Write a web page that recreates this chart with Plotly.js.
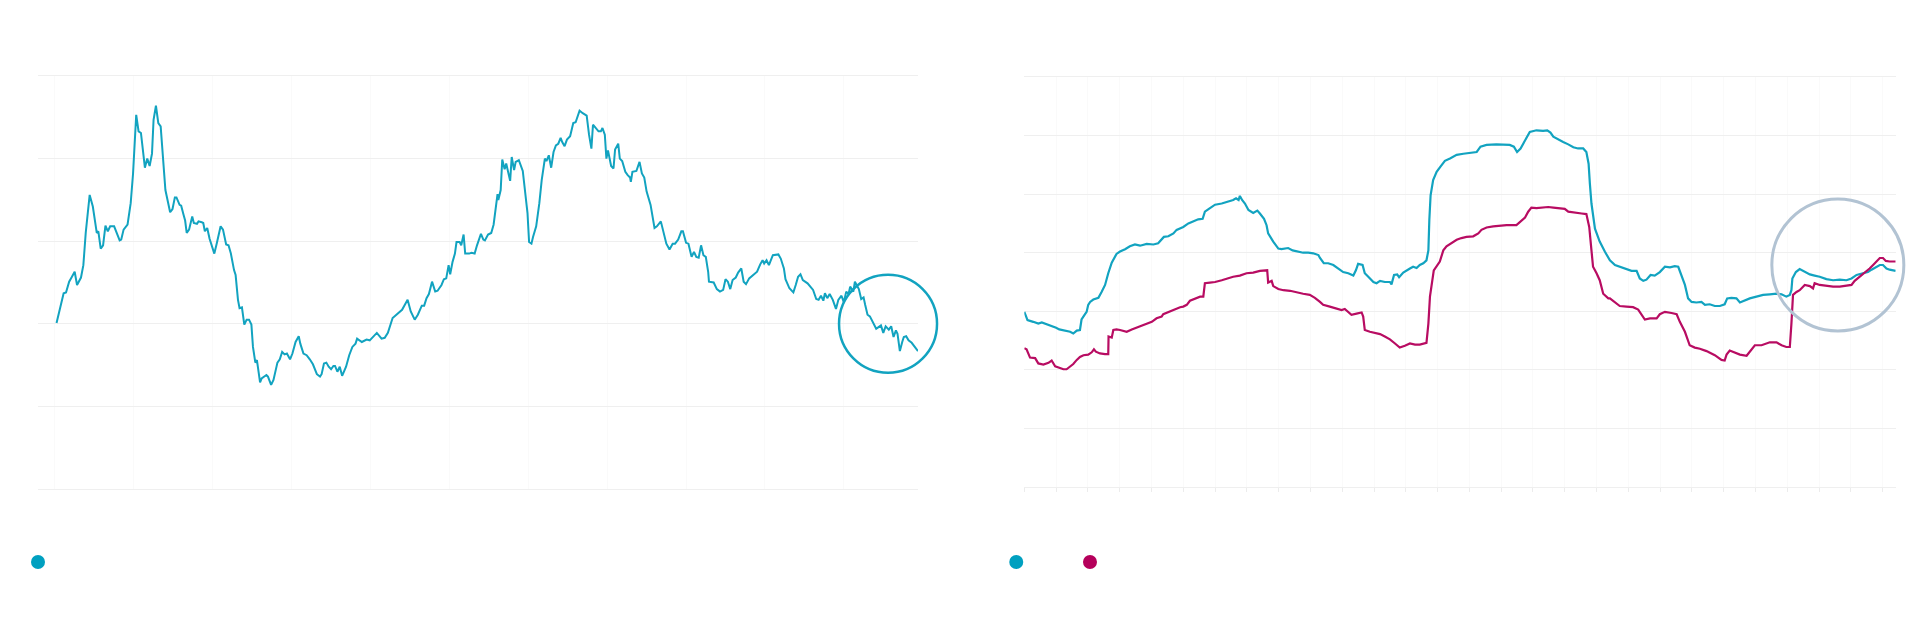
<!DOCTYPE html>
<html>
<head>
<meta charset="utf-8">
<script src="https://cdn.plot.ly/plotly-3.0.1.min.js"></script>
<style>
	body { margin: 0; background: #fff; }
	#chart { width: 1920px; height: 625px; }
</style>
</head>
<body>
<div id="chart"></div>
<script>
// left panel, one series
const leftX = [
	0.02, 0.11, 0.14, 0.18, 0.21, 0.25, 0.28, 0.33, 0.36, 0.39, 0.44, 0.48, 0.53, 0.55, 0.58, 0.61, 0.64, 0.67, 0.70, 0.75,
	0.82, 0.84, 0.87, 0.92, 0.96, 0.99, 1.03, 1.06, 1.09, 1.12, 1.14, 1.17, 1.20, 1.23, 1.25, 1.28, 1.31, 1.34, 1.40, 1.46,
	1.49, 1.52, 1.54, 1.58, 1.60, 1.63, 1.65, 1.67, 1.70, 1.74, 1.76, 1.80, 1.82, 1.86, 1.88, 1.90, 1.93, 1.96, 2.02, 2.05,
	2.10, 2.13, 2.17, 2.20, 2.23, 2.27, 2.29, 2.32, 2.34, 2.37, 2.40, 2.43, 2.46, 2.49, 2.51, 2.54, 2.56, 2.60, 2.62, 2.68,
	2.70, 2.74, 2.77, 2.82, 2.85, 2.88, 2.91, 2.94, 2.98, 3.01, 3.05, 3.09, 3.11, 3.15, 3.19, 3.23, 3.27, 3.32, 3.36, 3.38,
	3.41, 3.44, 3.47, 3.50, 3.53, 3.55, 3.58, 3.61,
	3.64, 3.69, 3.73, 3.77, 3.81, 3.83, 3.89, 3.95, 3.99, 4.08, 4.14, 4.18, 4.22, 4.28, 4.32, 4.35, 4.40, 4.47, 4.51, 4.56,
	4.60, 4.65, 4.68, 4.71, 4.74, 4.78, 4.82, 4.85, 4.90, 4.93, 4.96, 4.99, 5.01, 5.04, 5.07, 5.09, 5.13, 5.15, 5.18, 5.20,
	5.25, 5.28, 5.32, 5.35, 5.40, 5.43, 5.45, 5.49, 5.53, 5.56, 5.59, 5.61, 5.62, 5.65, 5.67, 5.70, 5.72, 5.74, 5.77, 5.79,
	5.82, 5.84, 5.88, 5.93, 5.96, 5.99, 6.01, 6.04, 6.06, 6.10, 6.14, 6.17, 6.21, 6.23, 6.26, 6.29, 6.32, 6.35, 6.38, 6.41,
	6.43, 6.46, 6.49, 6.53, 6.54, 6.57, 6.60, 6.65, 6.69, 6.74, 6.77, 6.80, 6.82, 6.86, 6.89, 6.92, 6.94, 6.97, 6.99, 7.01,
	7.03, 7.05, 7.08, 7.10, 7.14, 7.16, 7.19, 7.23, 7.26, 7.29,
	7.30, 7.32, 7.37, 7.41, 7.44, 7.47, 7.50, 7.55, 7.60, 7.63, 7.68, 7.71, 7.75, 7.79, 7.83, 7.86, 7.90, 7.94, 7.96, 8.00,
	8.03, 8.07, 8.10, 8.13, 8.16, 8.19, 8.22, 8.25, 8.28, 8.29, 8.35, 8.39, 8.43, 8.47, 8.50, 8.53, 8.56, 8.59, 8.63, 8.66,
	8.70, 8.73, 8.76, 8.80, 8.85, 8.90, 8.94, 8.97, 8.99, 9.02, 9.05, 9.07, 9.10, 9.17, 9.20, 9.24, 9.26, 9.31, 9.36, 9.39,
	9.42, 9.45, 9.48, 9.54, 9.58, 9.61, 9.65, 9.68, 9.71, 9.74, 9.76, 9.79, 9.82, 9.86, 9.90, 9.93, 9.97, 10.00, 10.03, 10.06,
	10.08, 10.12, 10.14, 10.19, 10.22, 10.25, 10.27, 10.30, 10.33, 10.37, 10.41, 10.44, 10.47, 10.50, 10.53, 10.57, 10.60, 10.63, 10.66, 10.68,
	10.71, 10.74, 10.76, 10.79, 10.82, 10.86, 10.90, 10.93, 10.94,
];
const leftY = [
	2.01, 2.37, 2.38, 2.51, 2.56, 2.63, 2.47, 2.56, 2.71, 3.10, 3.56, 3.42, 3.10, 3.12, 2.91, 2.95, 3.19, 3.12, 3.18, 3.18,
	3.01, 3.02, 3.14, 3.20, 3.46, 3.82, 4.53, 4.33, 4.31, 4.06, 3.89, 4.00, 3.91, 4.06, 4.47, 4.64, 4.43, 4.39, 3.62, 3.35,
	3.39, 3.53, 3.53, 3.44, 3.43, 3.32, 3.25, 3.10, 3.14, 3.30, 3.22, 3.21, 3.24, 3.23, 3.22, 3.12, 3.16, 3.03, 2.85, 2.97,
	3.18, 3.14, 2.96, 2.95, 2.85, 2.65, 2.59, 2.29, 2.19, 2.20, 1.99, 2.05, 2.05, 1.99, 1.72, 1.53, 1.56, 1.29, 1.34, 1.38,
	1.36, 1.26, 1.32, 1.53, 1.57, 1.66, 1.63, 1.64, 1.57, 1.64, 1.78, 1.85, 1.76, 1.64, 1.62, 1.57, 1.51, 1.39, 1.36, 1.39,
	1.52, 1.53, 1.48, 1.45, 1.49, 1.49, 1.42, 1.48,
	1.37, 1.48, 1.62, 1.72, 1.76, 1.82, 1.78, 1.81, 1.80, 1.89, 1.82, 1.83, 1.89, 2.07, 2.10, 2.13, 2.17, 2.29, 2.15, 2.05,
	2.11, 2.22, 2.22, 2.31, 2.36, 2.51, 2.39, 2.40, 2.47, 2.54, 2.55, 2.71, 2.60, 2.75, 2.85, 2.99, 2.99, 2.95, 3.08, 2.85,
	2.85, 2.86, 2.85, 2.95, 3.09, 3.02, 3.01, 3.08, 3.10, 3.20, 3.44, 3.57, 3.50, 3.62, 3.99, 3.87, 3.94, 3.84, 3.73, 4.02,
	3.86, 3.96, 3.98, 3.85, 3.62, 3.34, 2.99, 2.97, 3.05, 3.18, 3.46, 3.74, 4.00, 3.97, 4.04, 3.89, 4.08, 4.16, 4.18, 4.25,
	4.20, 4.15, 4.23, 4.27, 4.31, 4.43, 4.44, 4.58, 4.55, 4.52, 4.29, 4.12, 4.41, 4.37, 4.33, 4.33, 4.37, 4.29, 4.00, 4.10,
	4.00, 3.91, 3.88, 4.11, 4.18, 4.00, 3.97, 3.84, 3.80, 3.77,
	3.72, 3.84, 3.85, 3.96, 3.82, 3.77, 3.60, 3.44, 3.16, 3.18, 3.24, 3.12, 2.97, 2.90, 2.97, 2.97, 3.02, 3.12, 3.12, 2.98,
	2.97, 2.81, 2.87, 2.81, 2.80, 2.95, 2.83, 2.81, 2.63, 2.51, 2.50, 2.42, 2.39, 2.41, 2.54, 2.51, 2.42, 2.53, 2.56, 2.62,
	2.67, 2.51, 2.48, 2.55, 2.59, 2.63, 2.72, 2.77, 2.73, 2.77, 2.71, 2.75, 2.83, 2.84, 2.79, 2.67, 2.54, 2.43, 2.38, 2.47,
	2.57, 2.60, 2.53, 2.49, 2.44, 2.41, 2.30, 2.29, 2.34, 2.28, 2.37, 2.31, 2.36, 2.29, 2.18, 2.29, 2.34, 2.26, 2.39, 2.36,
	2.45, 2.39, 2.51, 2.42, 2.30, 2.32, 2.23, 2.11, 2.09, 2.01, 1.94, 1.96, 1.98, 1.89, 1.97, 1.93, 1.97, 1.84, 1.92, 1.88,
	1.67, 1.78, 1.84, 1.85, 1.80, 1.77, 1.72, 1.69, 1.67,
];

// right panel, two series
const rightCyanX = [
	0, 0.10, 0.28, 0.44, 0.55, 0.70, 0.86, 1.00, 1.10, 1.28, 1.44, 1.54, 1.65, 1.75, 1.80, 1.91, 1.96, 2.01, 2.07, 2.17,
	2.33, 2.43, 2.54, 2.64, 2.75, 2.90, 3.01, 3.17, 3.32, 3.48, 3.64, 3.85, 4.06, 4.21, 4.32, 4.39, 4.53, 4.69, 4.79, 5.00,
	5.16, 5.32, 5.47, 5.61, 5.68, 5.84, 6.00, 6.21, 6.36, 6.57, 6.66, 6.74, 6.78, 6.85, 6.94, 7.05, 7.20, 7.33, 7.41, 7.54,
	7.62, 7.67, 7.83, 7.99, 8.09, 8.20, 8.30, 8.44, 8.62, 8.77, 8.93, 9.09, 9.25,
	9.30, 9.42, 9.56, 9.72, 9.88, 10.03, 10.19, 10.35, 10.43, 10.50, 10.64, 10.71, 10.82, 10.98, 11.08, 11.19, 11.34, 11.50, 11.55, 11.63,
	11.73, 11.79, 11.92, 12.02, 12.13, 12.23, 12.34, 12.44, 12.55, 12.65, 12.71, 12.74, 12.78, 12.86, 12.97, 13.09, 13.23, 13.39, 13.60, 13.81,
	14.02, 14.23, 14.35, 14.54, 14.85, 15.06, 15.27, 15.40, 15.50, 15.61, 15.69, 15.80, 15.90, 16.11, 16.32, 16.45, 16.55, 16.64, 16.79, 16.95,
	17.11, 17.27, 17.42, 17.58, 17.68, 17.75, 17.79, 17.84, 17.95, 18.10, 18.26, 18.42,
	18.58, 18.73, 18.94, 19.10, 19.26, 19.36, 19.47, 19.57, 19.70, 19.83, 19.99, 20.15, 20.31, 20.46, 20.57, 20.67, 20.78, 20.88, 20.99, 21.14,
	21.30, 21.41, 21.56, 21.72, 21.88, 22.03, 22.11, 22.24, 22.40, 22.51, 22.66, 22.82, 23.03, 23.24, 23.45, 23.66, 23.82, 23.97, 24.08, 24.13,
	24.16, 24.27, 24.39, 24.55, 24.71, 24.86, 25.02, 25.23, 25.44, 25.65, 25.86, 26.02, 26.18, 26.38, 26.54, 26.65, 26.80, 26.91, 27.01, 27.12,
	27.22, 27.41,
];
const rightCyanY = [
	2.99, 2.85, 2.82, 2.79, 2.81, 2.78, 2.76, 2.72, 2.69, 2.67, 2.65, 2.62, 2.67, 2.68, 2.86, 2.95, 2.99, 3.11, 3.16, 3.20,
	3.23, 3.33, 3.45, 3.65, 3.83, 3.98, 4.02, 4.06, 4.11, 4.14, 4.12, 4.15, 4.14, 4.16, 4.22, 4.27, 4.28, 4.33, 4.39, 4.44,
	4.50, 4.54, 4.57, 4.58, 4.70, 4.76, 4.82, 4.84, 4.86, 4.90, 4.93, 4.90, 4.97, 4.90, 4.84, 4.73, 4.68, 4.72, 4.67, 4.58,
	4.47, 4.33, 4.19, 4.07, 4.06, 4.07, 4.08, 4.04, 4.02, 4.00, 4.00, 3.99, 3.96,
	3.91, 3.82, 3.82, 3.79, 3.73, 3.67, 3.65, 3.61, 3.70, 3.81, 3.79, 3.65, 3.59, 3.50, 3.48, 3.52, 3.50, 3.50, 3.46, 3.62,
	3.63, 3.58, 3.66, 3.70, 3.73, 3.76, 3.74, 3.79, 3.82, 3.87, 4.04, 4.56, 4.98, 5.24, 5.38, 5.47, 5.57, 5.61, 5.67, 5.69,
	5.71, 5.72, 5.81, 5.84, 5.85, 5.85, 5.84, 5.81, 5.72, 5.78, 5.86, 5.97, 6.06, 6.09, 6.08, 6.09, 6.05, 5.98, 5.93, 5.89,
	5.85, 5.80, 5.78, 5.78, 5.72, 5.52, 5.18, 4.84, 4.41, 4.19, 4.02, 3.87,
	3.79, 3.76, 3.72, 3.69, 3.69, 3.56, 3.52, 3.54, 3.62, 3.61, 3.67, 3.76, 3.75, 3.77, 3.76, 3.62, 3.45, 3.22, 3.16, 3.15,
	3.16, 3.11, 3.12, 3.09, 3.09, 3.12, 3.22, 3.23, 3.22, 3.15, 3.19, 3.22, 3.25, 3.28, 3.29, 3.30, 3.29, 3.25, 3.28, 3.36,
	3.56, 3.67, 3.72, 3.67, 3.63, 3.61, 3.59, 3.55, 3.53, 3.54, 3.53, 3.56, 3.62, 3.65, 3.67, 3.71, 3.76, 3.79, 3.79, 3.73,
	3.71, 3.69,
];

const rightRedX = [
	0, 0.07, 0.18, 0.34, 0.44, 0.60, 0.76, 0.86, 0.97, 1.07, 1.23, 1.33, 1.44, 1.54, 1.65, 1.75, 1.86, 2.01, 2.12, 2.19,
	2.25, 2.38, 2.54, 2.64, 2.65, 2.75, 2.80, 2.90, 3.01, 3.22, 3.38, 3.53, 3.69, 3.85, 4.01, 4.16, 4.32, 4.37, 4.53, 4.69,
	4.90, 5.00, 5.11, 5.21, 5.37, 5.53, 5.63, 5.68, 5.84, 6.00, 6.21, 6.36, 6.57, 6.78, 6.99, 7.20, 7.41, 7.64, 7.67, 7.78,
	7.83, 7.99, 8.15, 8.36, 8.56, 8.77, 8.98, 9.14, 9.30,
	9.40, 9.61, 9.82, 9.98, 10.08, 10.19, 10.29, 10.45, 10.61, 10.66, 10.71, 10.87, 11.03, 11.19, 11.34, 11.50, 11.66, 11.81, 11.97, 12.13,
	12.29, 12.44, 12.65, 12.71, 12.76, 12.88, 13.07, 13.18, 13.28, 13.44, 13.60, 13.75, 13.91, 14.12, 14.28, 14.38, 14.54, 14.75, 14.96, 15.17,
	15.48, 15.59, 15.75, 15.85, 15.95, 16.11, 16.32, 16.48, 16.64, 16.85, 17.00, 17.11, 17.32, 17.53, 17.68, 17.77, 17.84, 17.89, 18.00, 18.10,
	18.21, 18.37,
	18.42, 18.58, 18.73, 18.94, 19.15, 19.31, 19.41, 19.52, 19.68, 19.89, 19.99, 20.15, 20.36, 20.52, 20.62, 20.78, 20.93, 21.09, 21.25, 21.46,
	21.72, 21.93, 22.03, 22.09, 22.19, 22.35, 22.51, 22.72, 22.87, 22.98, 23.19, 23.34, 23.45, 23.66, 23.82, 23.97, 24.08, 24.13, 24.18, 24.29,
	24.39, 24.55, 24.71, 24.81, 24.86, 25.02, 25.23, 25.44, 25.65, 25.86, 26.02, 26.12, 26.28, 26.44, 26.59, 26.70, 26.80, 26.91, 27.01, 27.10,
	27.22, 27.41,
];
const rightRedY = [
	2.37, 2.35, 2.21, 2.20, 2.11, 2.09, 2.12, 2.16, 2.06, 2.04, 2.01, 2.01, 2.05, 2.10, 2.17, 2.22, 2.25, 2.26, 2.30, 2.35,
	2.31, 2.28, 2.27, 2.27, 2.57, 2.55, 2.68, 2.69, 2.68, 2.65, 2.69, 2.72, 2.75, 2.79, 2.82, 2.88, 2.91, 2.95, 2.99, 3.02,
	3.07, 3.08, 3.11, 3.18, 3.22, 3.25, 3.25, 3.48, 3.49, 3.50, 3.53, 3.56, 3.59, 3.61, 3.65, 3.66, 3.69, 3.70, 3.49, 3.52,
	3.43, 3.38, 3.36, 3.35, 3.32, 3.30, 3.28, 3.23, 3.16,
	3.11, 3.08, 3.05, 3.02, 3.04, 2.99, 2.94, 2.96, 2.98, 2.91, 2.68, 2.65, 2.63, 2.61, 2.57, 2.52, 2.45, 2.38, 2.41, 2.45,
	2.43, 2.43, 2.46, 2.79, 3.25, 3.70, 3.85, 4.04, 4.11, 4.16, 4.22, 4.25, 4.27, 4.28, 4.33, 4.39, 4.43, 4.45, 4.46, 4.47,
	4.47, 4.53, 4.60, 4.70, 4.77, 4.76, 4.77, 4.78, 4.77, 4.76, 4.75, 4.70, 4.68, 4.67, 4.66, 4.44, 4.04, 3.76, 3.65, 3.53,
	3.30, 3.22,
	3.22, 3.16, 3.09, 3.08, 3.07, 3.03, 2.94, 2.86, 2.88, 2.88, 2.95, 2.99, 2.97, 2.95, 2.82, 2.65, 2.42, 2.38, 2.36, 2.32,
	2.25, 2.17, 2.16, 2.26, 2.33, 2.30, 2.26, 2.24, 2.35, 2.42, 2.42, 2.45, 2.47, 2.47, 2.42, 2.39, 2.39, 2.79, 3.28, 3.33,
	3.36, 3.45, 3.43, 3.39, 3.48, 3.45, 3.43, 3.42, 3.42, 3.43, 3.45, 3.52, 3.59, 3.66, 3.73, 3.79, 3.85, 3.91, 3.91, 3.86,
	3.85, 3.85,
];

// highlight rings, centred on a data point
const leftRing = { x: 10.56, y: 2.0 };
const rightRing = { x: 25.59, y: 3.79 };

var cyan = '#12a3c0';
var magenta = '#b80c62';

var grid = '#efefef';
var vgrid = '#fafafa';

var xLeft = { domain: [0.01979, 0.47813], range: [-0.215, 10.94] };
var yLeft = { domain: [0.2176, 0.8784], range: [0, 5] };
var xRight = { domain: [0.5335, 0.98734], range: [0, 27.41] };
var yRight = { domain: [0.2208, 0.8768], range: [0, 7] };

// data value -> paper fraction, so the rings are not clipped at the plot edge
function toPaper(ax, v) {
	var t = (v - ax.range[0]) / (ax.range[1] - ax.range[0]);
	return ax.domain[0] + t * (ax.domain[1] - ax.domain[0]);
}

var left = {
	x: leftX,
	y: leftY,
	xaxis: 'x',
	yaxis: 'y',
	type: 'scatter',
	mode: 'lines',
	line: { color: cyan, width: 2 },
	hoverinfo: 'skip',
};

var rightCyan = {
	x: rightCyanX,
	y: rightCyanY,
	xaxis: 'x2',
	yaxis: 'y2',
	type: 'scatter',
	mode: 'lines',
	line: { color: cyan, width: 2.2 },
	hoverinfo: 'skip',
};

var rightRed = {
	x: rightRedX,
	y: rightRedY,
	xaxis: 'x2',
	yaxis: 'y2',
	type: 'scatter',
	mode: 'lines',
	line: { color: magenta, width: 2.2 },
	hoverinfo: 'skip',
};

function dot(x, color) {
	return {
		type: 'circle',
		xref: 'paper',
		yref: 'paper',
		xsizemode: 'pixel',
		ysizemode: 'pixel',
		xanchor: x,
		yanchor: 0.1008,
		x0: -7, x1: 7, y0: -7, y1: 7,
		fillcolor: color,
		line: { width: 0 },
	};
}

function ring(xa, ya, c, r, color, w) {
	return {
		type: 'circle',
		xref: 'paper',
		yref: 'paper',
		xsizemode: 'pixel',
		ysizemode: 'pixel',
		xanchor: toPaper(xa, c.x),
		yanchor: toPaper(ya, c.y),
		x0: -r, x1: r, y0: -r, y1: r,
		line: { color: color, width: w },
		fillcolor: 'rgba(0,0,0,0)',
	};
}

var layout = {
	width: 1920,
	height: 625,
	margin: { l: 0, r: 0, t: 0, b: 0 },
	paper_bgcolor: '#fff',
	plot_bgcolor: '#fff',
	showlegend: false,
	font: { family: 'Open Sans, sans-serif' },

	xaxis: {
		domain: xLeft.domain,
		anchor: 'y',
		range: xLeft.range,
		tick0: 0,
		dtick: 1,
		showgrid: true,
		gridcolor: vgrid,
		zeroline: false,
		showline: true,
		mirror: true,
		linecolor: grid,
		linewidth: 1,
		showticklabels: false,
		ticks: '',
	},
	yaxis: {
		domain: yLeft.domain,
		anchor: 'x',
		range: yLeft.range,
		dtick: 1,
		showgrid: true,
		gridcolor: grid,
		zeroline: false,
		showticklabels: false,
		ticks: '',
	},
	xaxis2: {
		domain: xRight.domain,
		anchor: 'y2',
		range: xRight.range,
		tick0: 0,
		dtick: 1,
		showgrid: true,
		gridcolor: vgrid,
		zeroline: false,
		showline: true,
		mirror: true,
		linecolor: grid,
		linewidth: 1,
		showticklabels: false,
		ticks: 'outside',
		ticklen: 4,
		tickwidth: 1,
		tickcolor: '#ececec',
	},
	yaxis2: {
		domain: yRight.domain,
		anchor: 'x2',
		range: yRight.range,
		dtick: 1,
		showgrid: true,
		gridcolor: grid,
		zeroline: false,
		showticklabels: false,
		ticks: '',
	},

	shapes: [
		ring(xLeft, yLeft, leftRing, 49, cyan, 2.5),
		ring(xRight, yRight, rightRing, 66, '#b2c3d3', 3),
		dot(0.01979, '#00a0c0'),
		dot(0.5293, '#00a0c0'),
		dot(0.5677, '#b5005b'),
	],
};

var config = { displayModeBar: false, staticPlot: true };

Plotly.newPlot('chart', [left, rightCyan, rightRed], layout, config);
</script>
</body>
</html>
